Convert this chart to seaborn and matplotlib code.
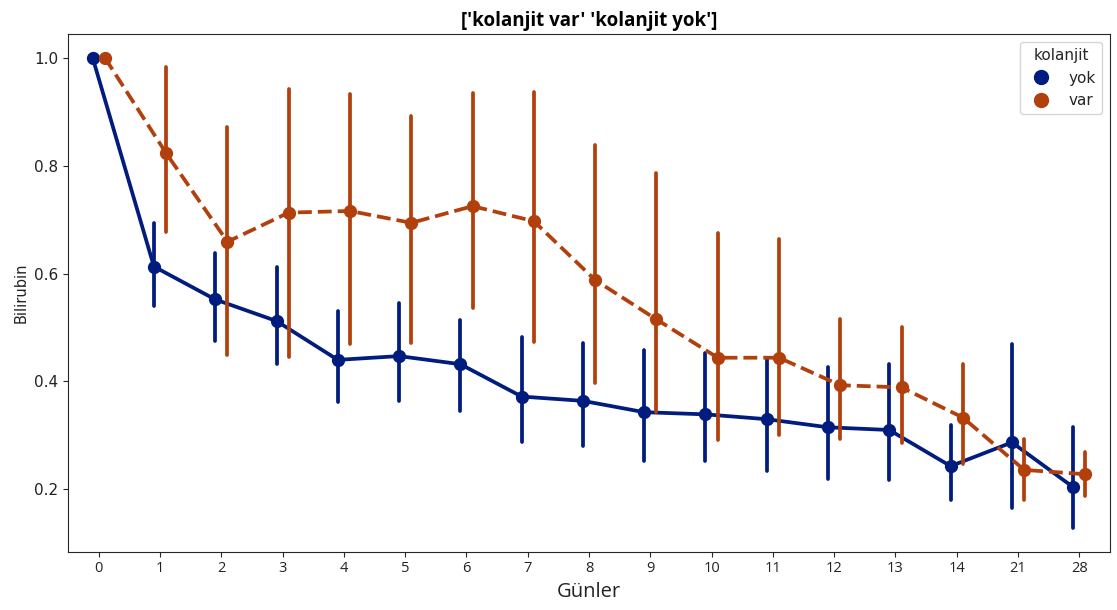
import pandas as pd
import matplotlib.pyplot as plt
import seaborn as sns
from matplotlib.lines import Line2D

# Days on the x axis
days = ["0", "1", "2", "3", "4", "5", "6", "7", "8", "9", "10", "11", "12", "13", "14", "21", "28"]

# kolanjit yok: point estimate and interval bounds
yok_mid = [1.0, 0.613, 0.552, 0.512, 0.440, 0.447, 0.432, 0.372, 0.364, 0.343, 0.339, 0.330, 0.315, 0.310, 0.243, 0.287, 0.204]
yok_lo = [1.0, 0.540, 0.475, 0.432, 0.361, 0.364, 0.346, 0.287, 0.281, 0.253, 0.253, 0.234, 0.220, 0.217, 0.181, 0.165, 0.128]
yok_hi = [1.0, 0.693, 0.639, 0.613, 0.531, 0.545, 0.514, 0.483, 0.471, 0.459, 0.453, 0.441, 0.426, 0.432, 0.319, 0.469, 0.315]

# kolanjit var
var_mid = [1.0, 0.823, 0.659, 0.713, 0.716, 0.694, 0.725, 0.697, 0.588, 0.515, 0.444, 0.444, 0.393, 0.389, 0.333, 0.236, 0.228]
var_lo = [1.0, 0.677, 0.449, 0.446, 0.469, 0.472, 0.537, 0.474, 0.397, 0.344, 0.291, 0.301, 0.293, 0.286, 0.247, 0.180, 0.188]
var_hi = [1.0, 0.983, 0.872, 0.943, 0.932, 0.892, 0.935, 0.937, 0.839, 0.787, 0.676, 0.664, 0.515, 0.501, 0.432, 0.293, 0.269]

groups = ["yok", "var"]

# long table: three values per point so median = point and min/max = interval
rows = []
for grp, lo, mid, hi in [("yok", yok_lo, yok_mid, yok_hi), ("var", var_lo, var_mid, var_hi)]:
    for d, a, b, c in zip(days, lo, mid, hi):
        for v in (a, b, c):
            rows.append({"Günler": d, "Bilirubin": v, "kolanjit": grp})
df = pd.DataFrame(rows)

sns.set_style("ticks")
plt.rcParams['font.family'] = ['DejaVu Sans']

fig = plt.figure(figsize=(11.17, 6.10), dpi=100)
ax = fig.add_axes([0.061, 0.0956, 0.9327, 0.8482])

colors = sns.color_palette("dark", 2)
sns.pointplot(data=df, x="Günler", y="Bilirubin", hue="kolanjit",
              order=days, hue_order=groups, palette=colors,
              estimator="median", errorbar=("pi", 100),
              linestyles=["-", "--"], dodge=0.2, markersize=7.5, ax=ax)

ax.set_xlim(-0.5, len(days) - 0.5)
ax.set_title("['kolanjit var' 'kolanjit yok']", fontsize=13.5, fontweight="bold",
             family="Open Sans", color="black")
ax.set_xlabel("Günler", fontsize=14.5, family="Open Sans", color="#222222")
ax.set_ylabel("Bilirubin", fontsize=10.5, color="#222222")
ax.set_yticks([0.2, 0.4, 0.6, 0.8, 1.0])
ax.tick_params(axis="y", labelsize=11, labelcolor="#222222")
ax.tick_params(axis="x", labelsize=10.5, labelcolor="#222222")
for lab in ax.get_xticklabels():
    lab.set_family("Open Sans")

handles = [Line2D([], [], marker="o", linestyle="", color=c, markersize=10) for c in colors]
ax.legend(handles, groups, title="kolanjit", loc="upper right", fontsize=11,
          title_fontsize=11)

fig.savefig("out.png", dpi=100)
